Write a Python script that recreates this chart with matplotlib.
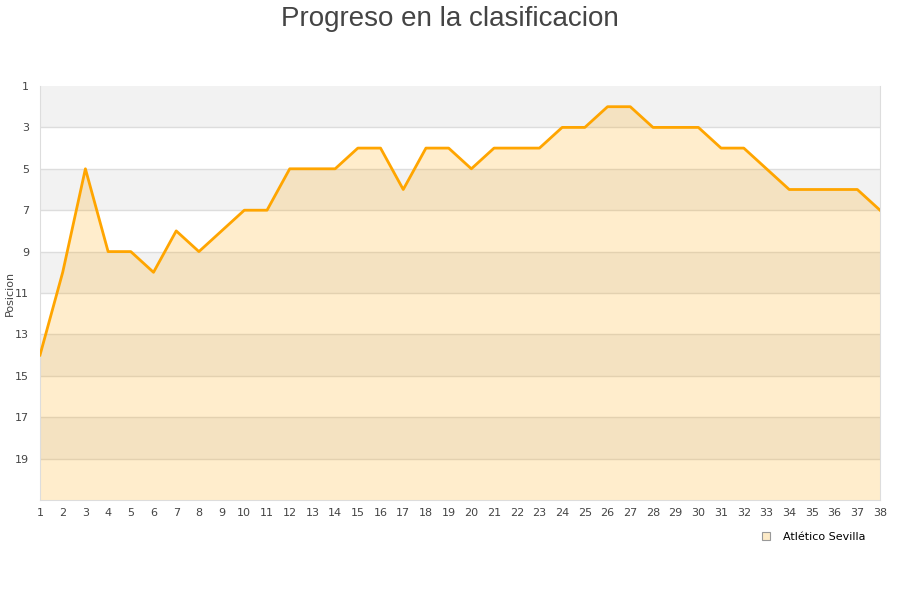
import matplotlib.pyplot as plt
from matplotlib.lines import Line2D

jornadas = list(range(1, 39))
posiciones = [14, 10, 5, 9, 9, 10, 8, 9, 8, 7, 7, 5, 5, 5, 4, 4, 6, 4, 4, 5,
              4, 4, 4, 3, 3, 2, 2, 3, 3, 3, 4, 4, 5, 6, 6, 6, 6, 7]
y_ticks = [1, 3, 5, 7, 9, 11, 13, 15, 17, 19]
equipo = 'Atlético Sevilla'
titulo = 'Progreso en la clasificacion'

fig = plt.figure(figsize=(9, 6), dpi=100)
ax = fig.add_axes([40 / 900, 100 / 600, 840 / 900, 414 / 600])

# alternating bands
for i, lo in enumerate(range(1, 21, 2)):
    if i % 2 == 0:
        ax.axhspan(lo, lo + 2, color='#f2f2f2', zorder=0, lw=0)
for t in range(3, 21, 2):
    ax.axhline(t, color='#dddddd', lw=1, zorder=1)

ax.fill_between(jornadas, posiciones, 21, color='#ffa500', alpha=0.2, lw=0, zorder=2)
ax.plot(jornadas, posiciones, color='#ffa500', lw=2, zorder=3)

ax.set_xlim(1, 38)
ax.set_ylim(21, 1)
ax.set_xticks(jornadas)
ax.set_yticks(y_ticks)
ax.tick_params(axis='both', length=0, labelsize=8, colors='#444444')
ax.tick_params(axis='x', pad=6)
ax.tick_params(axis='y', pad=8)
ax.spines['top'].set_visible(False)
for s in ['left', 'right', 'bottom']:
    ax.spines[s].set_color('#dddddd')

fig.text(10 / 900, 1 - 293 / 600, 'Posicion', rotation=90, ha='center', va='center',
         fontsize=8, color='#444444')

fig.text(0.5, 1 - 19 / 600, titulo, ha='center', va='center', fontsize=20, color='#444444',
         family=['Liberation Sans', 'DejaVu Sans'])

handle = Line2D([], [], marker='s', linestyle='none', markersize=6,
                markerfacecolor='#fdebc8', markeredgecolor='#999999', markeredgewidth=0.8)
fig.legend([handle], [equipo], loc='center', bbox_to_anchor=(810 / 900, 1 - 537 / 600),
           frameon=False, fontsize=8, handletextpad=0.5)

fig.savefig('out.png', dpi=100)
